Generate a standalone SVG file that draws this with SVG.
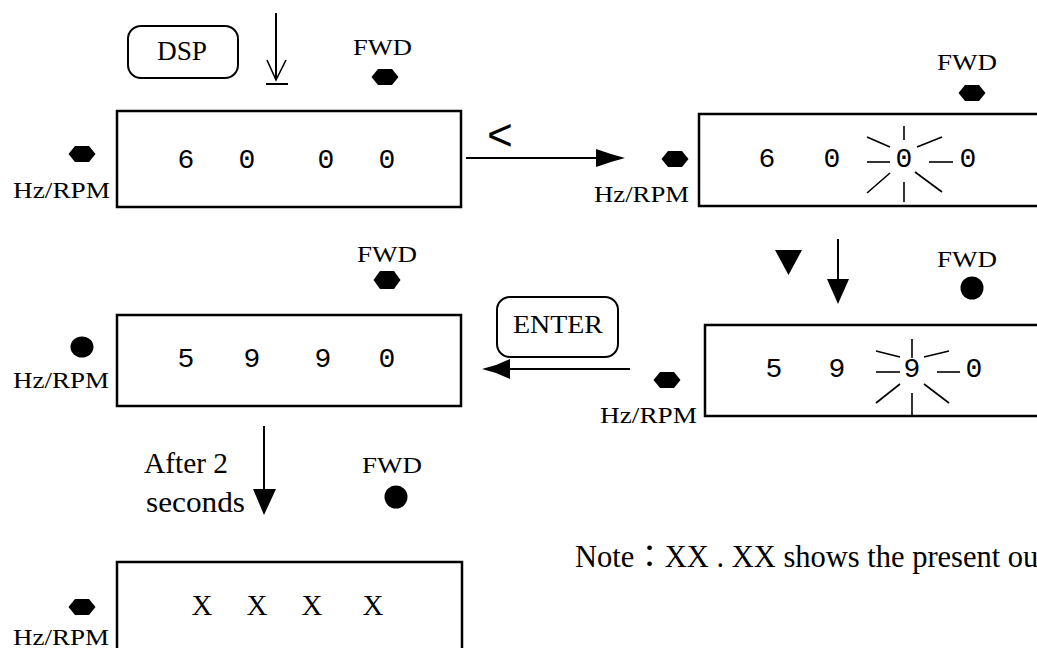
<svg xmlns="http://www.w3.org/2000/svg" width="1037" height="648" viewBox="0 0 1037 648">
<style>
.box{fill:#fff;stroke:#000;stroke-width:2.5}
.btn{fill:#fff;stroke:#000;stroke-width:2}
.lbl{font-family:"Liberation Serif","Times New Roman",serif;fill:#000}
.hz{font-size:23px}
.fwd{font-size:23.5px}
.dig{font-family:"Liberation Mono","Courier New",monospace;font-size:28px;fill:#000;text-anchor:middle}
.xd{font-family:"Liberation Serif","Times New Roman",serif;font-size:29px;fill:#000;text-anchor:middle}
.ray{stroke:#000;stroke-width:1.6;fill:none}
.ln{stroke:#000;stroke-width:2;fill:none}
.fill{fill:#000;stroke:none}
</style>
<defs>
<polygon id="hex" points="-13.5,0 -7,-8 7,-8 13.5,0 7,8 -7,8" fill="#000"/>
</defs>
<rect width="1037" height="648" fill="#fff"/>

<g id="connectors">
  <line class="ln" x1="276" y1="13" x2="276" y2="80"/>
  <polyline class="ray" points="267,60 276,80 286,60"/>
  <line class="ln" x1="266" y1="84" x2="288" y2="84"/>
  <line class="ln" x1="466" y1="158" x2="600" y2="158"/>
  <polygon class="fill" points="596,149 611,154 625,158 611,162 596,167"/>
  <line class="ln" x1="838" y1="239" x2="838" y2="285"/>
  <polygon class="fill" points="827,279 849,279 838,304"/>
  <line class="ln" x1="630" y1="369" x2="505" y2="369"/>
  <polygon class="fill" points="510,359 496,365 482,369 496,373 510,379"/>
  <line class="ln" x1="264" y1="426" x2="264" y2="495"/>
  <polygon class="fill" points="253,489 276,489 264,515"/>
</g>

<g id="dsp-key">
  <rect class="btn" x="128" y="26" width="110" height="52" rx="13"/>
  <text class="lbl" x="157" y="60" font-size="27" textLength="50" lengthAdjust="spacingAndGlyphs">DSP</text>
</g>

<g id="left-key-label">
  <text x="500" y="150" font-family="Liberation Mono, Courier New, monospace" font-size="44" text-anchor="middle">&lt;</text>
</g>

<g id="down-key">
  <polygon class="fill" points="775,250 802,250 788.5,275"/>
</g>

<g id="enter-key">
  <rect class="btn" x="497" y="297" width="121" height="60" rx="13"/>
  <text class="lbl" x="513" y="333" font-size="26" textLength="90" lengthAdjust="spacingAndGlyphs">ENTER</text>
</g>

<g id="display1">
  <rect class="box" x="117" y="111" width="344" height="96"/>
  <text class="dig" x="186" y="168">6</text>
  <text class="dig" x="247" y="168">0</text>
  <text class="dig" x="326" y="168">0</text>
  <text class="dig" x="387" y="168">0</text>
  <use href="#hex" x="82" y="154"/>
  <text class="lbl hz" x="13" y="198" textLength="97" lengthAdjust="spacingAndGlyphs">Hz/RPM</text>
  <text class="lbl fwd" x="353" y="55" textLength="59" lengthAdjust="spacingAndGlyphs">FWD</text>
  <use href="#hex" x="385" y="77"/>
</g>

<g id="display2">
  <rect class="box" x="699" y="114" width="400" height="92"/>
  <text class="dig" x="767" y="167">6</text>
  <text class="dig" x="832" y="167">0</text>
  <text class="dig" x="904" y="167">0</text>
  <text class="dig" x="968" y="167">0</text>
  <g class="ray">
    <line x1="904" y1="126" x2="904" y2="140"/>
    <line x1="904" y1="182" x2="904" y2="202"/>
    <line x1="867" y1="162" x2="890" y2="162"/>
    <line x1="929" y1="162" x2="953" y2="162"/>
    <line x1="867" y1="137" x2="890" y2="147"/>
    <line x1="917" y1="147" x2="942" y2="137"/>
    <line x1="867" y1="193" x2="890" y2="173"/>
    <line x1="915" y1="172" x2="942" y2="192"/>
  </g>
  <use href="#hex" x="675" y="159"/>
  <text class="lbl hz" x="594" y="202" textLength="95" lengthAdjust="spacingAndGlyphs">Hz/RPM</text>
  <text class="lbl fwd" x="937" y="70" textLength="60" lengthAdjust="spacingAndGlyphs">FWD</text>
  <use href="#hex" x="972" y="93"/>
</g>

<g id="display3">
  <rect class="box" x="117" y="315" width="344" height="91"/>
  <text class="dig" x="186" y="367">5</text>
  <text class="dig" x="252" y="367">9</text>
  <text class="dig" x="323" y="367">9</text>
  <text class="dig" x="387" y="367">0</text>
  <ellipse cx="82" cy="347" rx="11.5" ry="10.5" fill="#000"/>
  <text class="lbl hz" x="13" y="388" textLength="96" lengthAdjust="spacingAndGlyphs">Hz/RPM</text>
  <text class="lbl fwd" x="357" y="262" textLength="60" lengthAdjust="spacingAndGlyphs">FWD</text>
  <polygon points="373.5,280 380,271 394,271 400.5,280 394,289 380,289" fill="#000"/>
</g>

<g id="display4">
  <rect class="box" x="705" y="325" width="400" height="91"/>
  <text class="dig" x="774" y="377">5</text>
  <text class="dig" x="837" y="377">9</text>
  <text class="dig" x="912" y="377">9</text>
  <text class="dig" x="974" y="377">0</text>
  <g class="ray">
    <line x1="912" y1="339" x2="912" y2="358"/>
    <line x1="912" y1="393" x2="912" y2="416"/>
    <line x1="876" y1="372" x2="900" y2="372"/>
    <line x1="937" y1="372" x2="960" y2="372"/>
    <line x1="876" y1="351" x2="900" y2="357"/>
    <line x1="924" y1="357" x2="949" y2="351"/>
    <line x1="876" y1="403" x2="900" y2="384"/>
    <line x1="924" y1="384" x2="949" y2="403"/>
  </g>
  <use href="#hex" x="667" y="380"/>
  <text class="lbl hz" x="600" y="423" textLength="97" lengthAdjust="spacingAndGlyphs">Hz/RPM</text>
  <text class="lbl fwd" x="937" y="267" textLength="60" lengthAdjust="spacingAndGlyphs">FWD</text>
  <circle cx="972" cy="288" r="11.5" fill="#000"/>
</g>

<g id="timer-label">
  <text class="lbl" x="144" y="473" font-size="29" textLength="84" lengthAdjust="spacingAndGlyphs">After 2</text>
  <text class="lbl" x="146" y="512" font-size="29" textLength="99" lengthAdjust="spacingAndGlyphs">seconds</text>
</g>

<g id="display5">
  <rect class="box" x="117" y="562" width="345" height="100"/>
  <text class="xd" x="202" y="615">X</text>
  <text class="xd" x="257" y="615">X</text>
  <text class="xd" x="312" y="615">X</text>
  <text class="xd" x="373" y="615">X</text>
  <use href="#hex" x="82" y="607"/>
  <text class="lbl hz" x="13" y="645" textLength="96" lengthAdjust="spacingAndGlyphs">Hz/RPM</text>
  <text class="lbl fwd" x="362" y="473" textLength="60" lengthAdjust="spacingAndGlyphs">FWD</text>
  <circle cx="396" cy="497" r="11.5" fill="#000"/>
</g>

<g id="note">
  <text x="575" y="567" font-family="Liberation Serif, Noto Sans CJK JP, serif" font-size="30.5" fill="#000">Note：XX . XX shows the present ou</text>
</g>
</svg>
